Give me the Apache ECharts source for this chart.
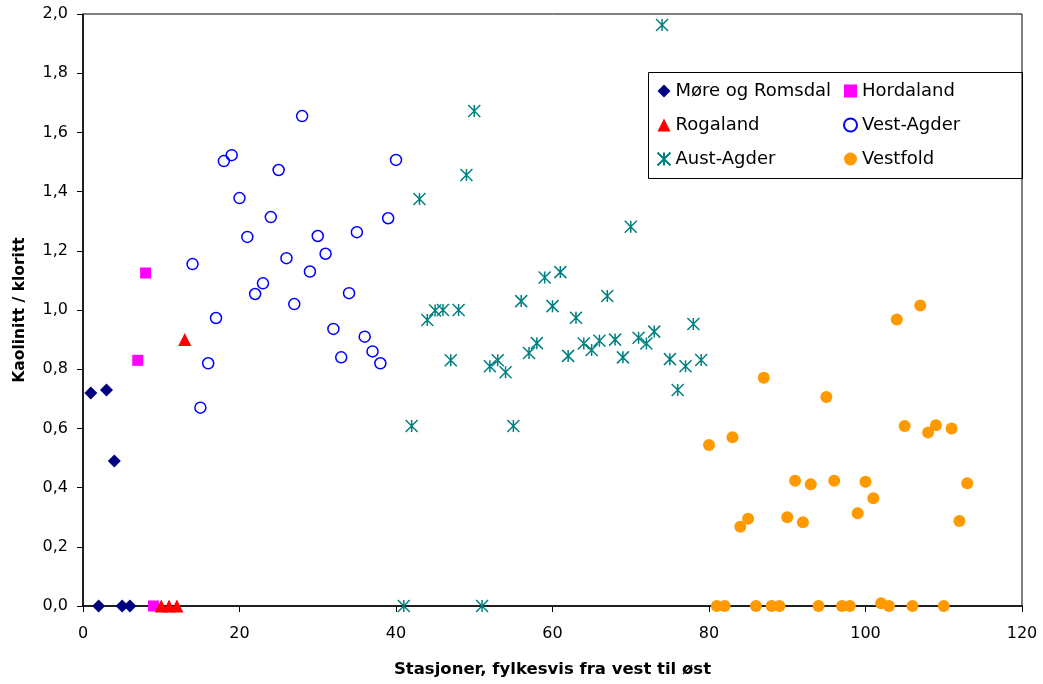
<!DOCTYPE html>
<html>
<head>
<meta charset="utf-8">
<script src="https://cdn.jsdelivr.net/npm/echarts@6/dist/echarts.min.js"></script>
<style>
html,body{margin:0;padding:0;background:#fff;}
#c{width:1043px;height:684px;}
</style>
</head>
<body>
<div id="c"></div>
<script>
// ---- Data (station index, kaolinitt/kloritt ratio) ----
var seriesNames = ['Møre og Romsdal', 'Hordaland', 'Rogaland', 'Vest-Agder', 'Aust-Agder', 'Vestfold'];

var moreX = [1, 2, 3, 4, 5, 6];
var moreY = [0.72, 0, 0.73, 0.49, 0, 0];

var hordX = [7, 8, 9];
var hordY = [0.83, 1.125, 0];

var rogaX = [10, 11, 12, 13];
var rogaY = [0, 0, 0, 0.90];

var vestAgderX = [14, 15, 16, 17, 18, 19, 20, 21, 22, 23, 24, 25, 26, 27, 28, 29, 30, 31, 32, 33, 34, 35, 36, 37, 38, 39, 40];
var vestAgderY = [1.155, 0.67, 0.82, 0.973, 1.503, 1.523, 1.378, 1.247, 1.054, 1.09, 1.314, 1.473, 1.175, 1.02, 1.655, 1.13, 1.25, 1.19, 0.936, 0.84, 1.057, 1.263, 0.91, 0.86, 0.82, 1.31, 1.507];

var austAgderX = [41, 42, 43, 44, 45, 46, 47, 48, 49, 50, 51, 52, 53, 54, 55, 56, 57, 58, 59, 60, 61, 62, 63, 64, 65, 66, 67, 68, 69, 70, 71, 72, 73, 74, 75, 76, 77, 78, 79];
var austAgderY = [0, 0.608, 1.375, 0.966, 0.998, 1.0, 0.83, 1.0, 1.456, 1.672, 0, 0.81, 0.83, 0.79, 0.608, 1.03, 0.855, 0.888, 1.11, 1.013, 1.128, 0.845, 0.974, 0.887, 0.865, 0.896, 1.047, 0.90, 0.84, 1.281, 0.906, 0.887, 0.927, 1.963, 0.834, 0.73, 0.81, 0.953, 0.831];

var vestfoldX = [80, 81, 82, 83, 84, 85, 86, 87, 88, 89, 90, 91, 92, 93, 94, 95, 96, 97, 98, 99, 100, 101, 102, 103, 104, 105, 106, 107, 108, 109, 110, 111, 112, 113];
var vestfoldY = [0.544, 0, 0, 0.57, 0.268, 0.295, 0, 0.771, 0, 0, 0.30, 0.423, 0.283, 0.411, 0, 0.706, 0.423, 0, 0, 0.313, 0.42, 0.364, 0.009, 0, 0.968, 0.608, 0, 1.015, 0.586, 0.611, 0, 0.60, 0.287, 0.415];

var xTicks = [0, 20, 40, 60, 80, 100, 120];
var yTicks = [0, 0.2, 0.4, 0.6, 0.8, 1.0, 1.2, 1.4, 1.6, 1.8, 2.0];

function pairs(xs, ys) { return xs.map(function (x, i) { return [x, ys[i]]; }); }

var FONT = "'DejaVu Sans', 'Liberation Sans', Arial, sans-serif";
var ASTERISK = 'path://M5,0L5,10M0,0L10,10M0,10L10,0';

var chart = echarts.init(document.getElementById('c'), null, {renderer: 'canvas'});

var legendCommon = {
  orient: 'vertical',
  top: 81,
  padding: 0,
  itemWidth: 13,
  itemHeight: 13,
  itemGap: 14,
  icon: null,
  textStyle: {fontFamily: FONT, fontSize: 18, color: '#000', lineHeight: 20},
  selectedMode: false
};

var option = {
  backgroundColor: '#fff',
  animation: false,
  grid: {
    left: 83, right: 21, top: 14, bottom: 78,
    show: true, borderColor: '#000', borderWidth: 1, backgroundColor: 'transparent'
  },
  legend: [
    Object.assign({}, legendCommon, {left: 656.5, data: [seriesNames[0], seriesNames[2], seriesNames[4]]}),
    Object.assign({}, legendCommon, {left: 843, data: [seriesNames[1], seriesNames[3], seriesNames[5]]})
  ],
  graphic: [{
    type: 'rect',
    shape: {x: 648.5, y: 72.5, width: 374, height: 106},
    style: {fill: 'none', stroke: '#000', lineWidth: 1},
    z: 100
  }],
  xAxis: {
    type: 'value',
    min: xTicks[0], max: xTicks[xTicks.length - 1], interval: 20,
    name: 'Stasjoner, fylkesvis fra vest til øst',
    nameLocation: 'middle',
    nameGap: 55,
    nameTextStyle: {fontFamily: FONT, fontSize: 16.5, fontWeight: 'bold', color: '#000'},
    axisLine: {show: true, onZero: false, lineStyle: {color: '#000', width: 1.5}},
    axisTick: {show: true, inside: false, length: 6, lineStyle: {color: '#000', width: 1}},
    axisLabel: {fontFamily: FONT, fontSize: 16, color: '#000', margin: 20},
    splitLine: {show: false}
  },
  yAxis: {
    type: 'value',
    min: yTicks[0], max: yTicks[yTicks.length - 1], interval: 0.2,
    name: 'Kaolinitt / kloritt',
    nameLocation: 'middle',
    nameGap: 55,
    nameRotate: 90,
    nameTextStyle: {fontFamily: FONT, fontSize: 15.5, fontWeight: 'bold', color: '#000'},
    axisLine: {show: true, onZero: false, lineStyle: {color: '#000', width: 1.5}},
    axisTick: {show: true, inside: false, length: 6, lineStyle: {color: '#000', width: 1}},
    axisLabel: {
      fontFamily: FONT, fontSize: 16, color: '#000', margin: 15,
      formatter: function (v) { return v.toFixed(1).replace('.', ','); }
    },
    splitLine: {show: false}
  },
  series: [
    {
      name: seriesNames[0], type: 'scatter', data: pairs(moreX, moreY),
      symbol: 'diamond', symbolSize: 13,
      itemStyle: {color: '#000080', opacity: 1}
    },
    {
      name: seriesNames[1], type: 'scatter', data: pairs(hordX, hordY),
      symbol: 'rect', symbolSize: 11,
      itemStyle: {color: '#FF00FF', opacity: 1}
    },
    {
      name: seriesNames[2], type: 'scatter', data: pairs(rogaX, rogaY),
      symbol: 'triangle', symbolSize: 13,
      itemStyle: {color: '#FF0000', opacity: 1}
    },
    {
      name: seriesNames[3], type: 'scatter', data: pairs(vestAgderX, vestAgderY),
      symbol: 'circle', symbolSize: 11,
      itemStyle: {color: 'rgba(255,255,255,0)', borderColor: '#0000FF', borderWidth: 1.5, opacity: 1}
    },
    {
      name: seriesNames[4], type: 'scatter', data: pairs(austAgderX, austAgderY),
      symbol: ASTERISK, symbolSize: 12,
      itemStyle: {color: 'rgba(0,128,128,0)', borderColor: '#008080', borderWidth: 1.5, opacity: 1}
    },
    {
      name: seriesNames[5], type: 'scatter', data: pairs(vestfoldX, vestfoldY),
      symbol: 'circle', symbolSize: 12,
      itemStyle: {color: '#FF9900', opacity: 1}
    }
  ]
};

// remove null icon key
delete option.legend[0].icon; delete option.legend[1].icon;

chart.setOption(option);
</script>
</body>
</html>
